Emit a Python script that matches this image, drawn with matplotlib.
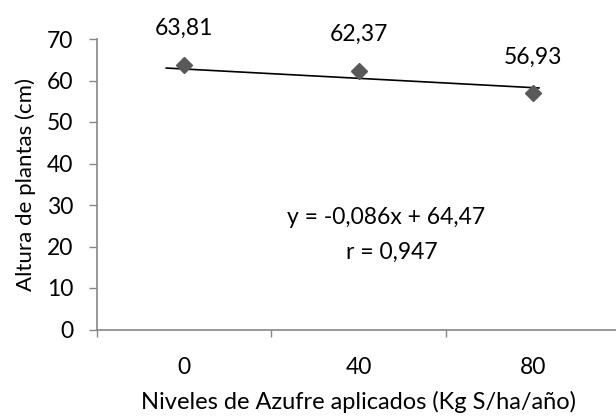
import matplotlib
matplotlib.use("Agg")
import matplotlib.pyplot as plt

plt.rcParams['font.family'] = ['Lato', 'DejaVu Sans']

categories = ["0", "40", "80"]
dose = [0, 40, 80]
height = [63.81, 62.37, 56.93]
point_labels = ["63,81", "62,37", "56,93"]
trend_x = [-4.1, 81.4]
trend_y = [63.0, 58.2]
y_ticks = [0, 10, 20, 30, 40, 50, 60, 70]
equation = "y = -0,086x + 64,47"
r_text = "r = 0,947"

def to_cat(v):
    # category axis: each category spans width 1, centered at i + 0.5; 40 kg per step
    return v / 40.0 + 0.5

fig = plt.figure(figsize=(6.16, 4.16), dpi=100)
ax = fig.add_axes([97/616, 86.5/416, (620-97)/616, (377-86.5)/416])

grey = "#868686"
fs = 16.5

xs = [to_cat(v) for v in dose]
ax.plot([to_cat(v) for v in trend_x], trend_y, color="black", lw=1.2, zorder=2)
ax.plot(xs, height, linestyle="none", marker="D", ms=8.5, color="#595959", zorder=3)

for x, y, lab in zip(xs, height, point_labels):
    ax.annotate(lab, (x, y), xytext=(0, 26), textcoords="offset points",
                ha="center", va="center", fontsize=fs)

ax.text(1.658, 26.9, equation, ha="center", va="center", fontsize=fs)
ax.text(1.689, 18.7, r_text, ha="center", va="center", fontsize=fs)

ax.set_xlim(0, 3)
ax.set_ylim(0, 70)
ax.set_yticks(y_ticks)
ax.set_yticklabels([str(t) for t in y_ticks], fontsize=fs)
ax.set_xticks([0, 1, 2, 3])
ax.set_xticklabels([])
ax.set_xticks([0.5, 1.5, 2.5], minor=True)
ax.set_xticklabels(categories, minor=True, fontsize=fs)
ax.tick_params(axis="x", which="major", direction="out", length=5, color=grey, width=1)
ax.tick_params(axis="x", which="minor", length=0, pad=20)
ax.tick_params(axis="y", direction="out", length=6, color=grey, width=1, pad=11)

for s in ["top", "right"]:
    ax.spines[s].set_visible(False)
for s in ["left", "bottom"]:
    ax.spines[s].set_color(grey)
    ax.spines[s].set_linewidth(1.2)

ax.set_ylabel("Altura de plantas (cm)", fontsize=16, labelpad=8)
ax.set_xlabel("Niveles de Azufre aplicados (Kg S/ha/año)", fontsize=17, labelpad=9)

fig.savefig("out.png", dpi=100)
